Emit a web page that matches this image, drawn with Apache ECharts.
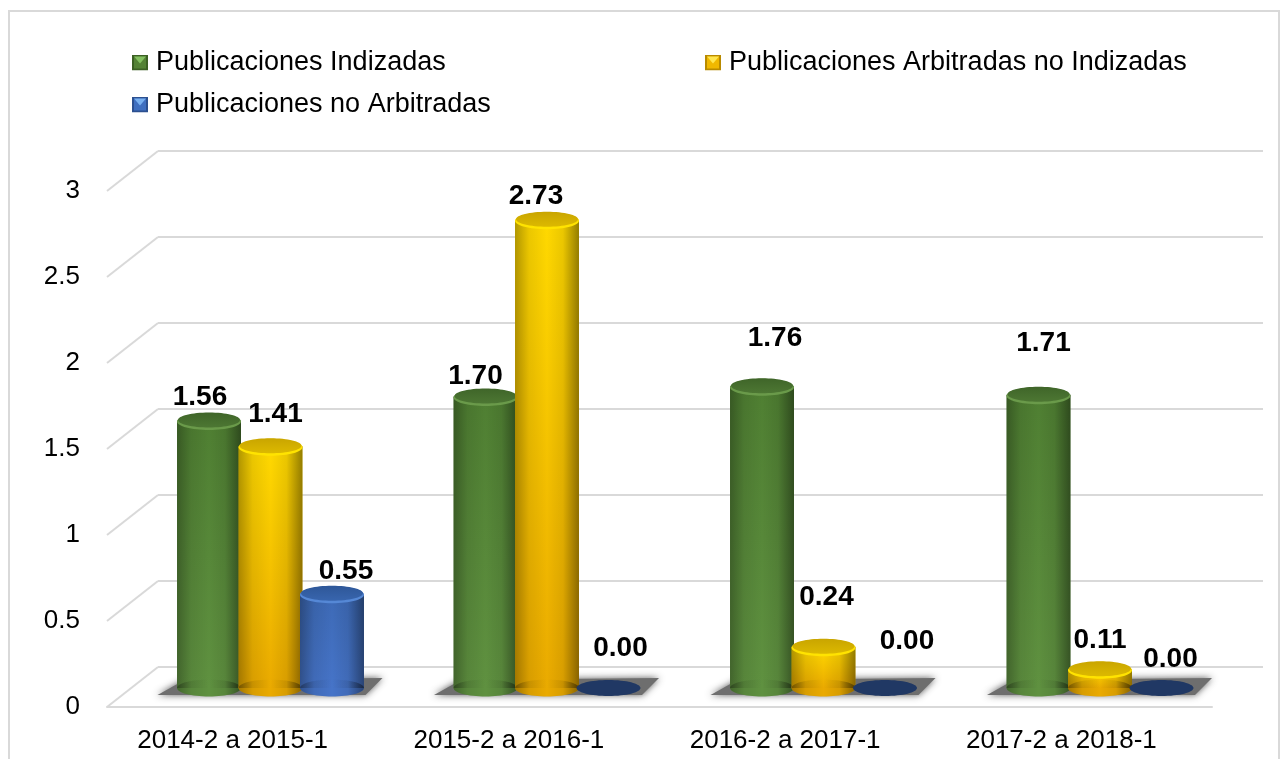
<!DOCTYPE html>
<html>
<head>
<meta charset="utf-8">
<title>Publicaciones</title>
<script src="https://cdn.jsdelivr.net/npm/echarts@6/dist/echarts.min.js"></script>
<style>
    html, body { margin: 0; padding: 0; background: #fff; overflow: hidden; }
    #chart { width: 1281px; height: 759px; }
</style>
</head>
<body>
<div id="chart"></div>
<script>
var categories = ['2014-2 a 2015-1', '2015-2 a 2016-1', '2016-2 a 2017-1', '2017-2 a 2018-1'];
var indizadas = [1.56, 1.70, 1.76, 1.71];
var arbitradas = [1.41, 2.73, 0.24, 0.11];
var noArbitradas = [0.55, 0.00, 0.00, 0.00];
var yTicks = [0, 0.5, 1, 1.5, 2, 2.5, 3];

var FONT = '"Liberation Sans", Arial, sans-serif';
var GRID_COLOR = '#d9d9d9';

// etiquetas movidas a mano en el original: desplazamiento desde la tapa de cada barra
var shiftIndizadas = [[-9, -23], [-10, -20], [13, -48], [5, -51]];
var shiftArbitradas = [[5, -32], [-11, -24], [3, -50], [0, -29]];
var shiftNoArbitradas = [[14, -22], [12, -40], [22, -47], [9, -29]];

var paletteGreen = {
    bodyTop: '#4f7f32', bodyBottom: '#5f9140', face: '#3f6529', faceLow: '#4d7733', rim: '#6a9a4a',
    icon: ['#548235', '#84c060', '#3c6024']
};
var paletteYellow = {
    bodyTop: '#ffd900', bodyBottom: '#eaaa00', face: '#c9a500', faceLow: '#dcb900', rim: '#ffe300',
    icon: ['#f0b800', '#ffe650', '#b88a00']
};
var paletteBlue = {
    bodyTop: '#3d6ab6', bodyBottom: '#4674c8', face: '#2e5798', faceLow: '#3865ae', rim: '#5588d6',
    icon: ['#3f6fc0', '#78b0f0', '#2c5090']
};

function legendIcon(c) {
    var svg = '<svg xmlns="http://www.w3.org/2000/svg" width="16" height="16">' +
        '<rect width="16" height="16" fill="' + c[2] + '"/>' +
        '<rect x="2" y="2" width="12" height="12" fill="' + c[0] + '"/>' +
        '<polygon points="2,2 14,2 8,9" fill="' + c[1] + '"/></svg>';
    return 'image://data:image/svg+xml,' + encodeURIComponent(svg);
}

function vertical(top, bottom) {
    return { type: 'linear', x: 0, y: 0, x2: 0, y2: 1, colorStops: [{ offset: 0, color: top }, { offset: 1, color: bottom }] };
}

var edgeShade = {
    type: 'linear', x: 0, y: 0, x2: 1, y2: 0,
    colorStops: [
        { offset: 0, color: 'rgba(0,0,0,0.30)' },
        { offset: 0.22, color: 'rgba(0,0,0,0.08)' },
        { offset: 0.5, color: 'rgba(0,0,0,0)' },
        { offset: 0.75, color: 'rgba(0,0,0,0.08)' },
        { offset: 1, color: 'rgba(0,0,0,0.42)' }
    ]
};

// cilindro de una serie, slot = -1, 0, 1 dentro del grupo
function cylinder(slot, palette, shifts) {
    return function (params, api) {
        var i = api.value(0);
        var val = api.value(1);
        var top = api.coord([i, val]);
        var base = api.coord([i, 0]);
        var band = api.size([1, 0])[0];
        var cx = top[0] + slot * band * 0.2224;
        var rx = band * 0.1157;
        var ry = 8.5;
        var children = [];
        if (val === 0) {
            children.push({ type: 'ellipse', shape: { cx: cx, cy: base[1], rx: rx, ry: ry - 0.5 }, style: { fill: '#203864' } });
        } else {
            var h = base[1] - top[1];
            children.push({ type: 'ellipse', shape: { cx: cx, cy: base[1], rx: rx, ry: ry }, style: { fill: palette.bodyBottom } });
            children.push({ type: 'rect', shape: { x: cx - rx, y: top[1], width: rx * 2, height: h }, style: { fill: vertical(palette.bodyTop, palette.bodyBottom) } });
            children.push({ type: 'ellipse', shape: { cx: cx, cy: base[1], rx: rx, ry: ry }, style: { fill: edgeShade } });
            children.push({ type: 'rect', shape: { x: cx - rx, y: top[1], width: rx * 2, height: h }, style: { fill: edgeShade } });
            children.push({ type: 'ellipse', shape: { cx: cx, cy: top[1] + 1, rx: rx, ry: ry }, style: { fill: palette.rim } });
            children.push({ type: 'ellipse', shape: { cx: cx, cy: top[1] - 0.5, rx: rx - 1, ry: ry - 1 }, style: { fill: vertical(palette.face, palette.faceLow) } });
        }
        children.push({
            type: 'text',
            z2: 50,
            style: {
                x: cx + shifts[i][0],
                y: top[1] + shifts[i][1],
                text: val.toFixed(2),
                fill: '#000',
                font: 'bold 28px ' + FONT,
                textAlign: 'center',
                textVerticalAlign: 'middle'
            }
        });
        return { type: 'group', children: children };
    };
}

function barSeries(name, values, slot, palette, shifts) {
    return {
        name: name,
        type: 'custom',
        xAxisIndex: 2,
        yAxisIndex: 2,
        z: 5 + slot,
        silent: true,
        animation: false,
        itemStyle: { color: palette.icon[0] },
        encode: { x: 0, y: 1 },
        data: values.map(function (v, i) { return [i, v]; }),
        renderItem: cylinder(slot, palette, shifts)
    };
}

function legendItem(name, left, top, palette) {
    return {
        show: true,
        data: [name],
        left: left,
        top: top,
        orient: 'horizontal',
        padding: 0,
        itemWidth: 16,
        itemHeight: 16,
        icon: legendIcon(palette.icon),
        selectedMode: false,
        textStyle: { fontFamily: FONT, fontSize: 27, color: '#000', padding: [0, 0, 0, 3] }
    };
}

var chart = echarts.init(document.getElementById('chart'));

var option = {
    backgroundColor: '#fff',
    animation: false,
    graphic: [{
        type: 'rect',
        silent: true,
        shape: { x: 9, y: 11, width: 1270, height: 770 },
        style: { fill: 'none', stroke: '#d9d9d9', lineWidth: 2 }
    }],
    legend: [
        legendItem('Publicaciones Indizadas', 132, 49, paletteGreen),
        legendItem('Publicaciones Arbitradas no Indizadas', 705, 49, paletteYellow),
        legendItem('Publicaciones no Arbitradas', 132, 91, paletteBlue)
    ],
    grid: [
        // plano frontal: ejes y etiquetas
        { left: 107, right: 69, top: 191, height: 516 },
        // pared del fondo
        { left: 158, right: 18, top: 151, height: 516 },
        // barras
        { left: 132.25, right: 42.75, top: 173.5, height: 514.5 }
    ],
    xAxis: [{
        gridIndex: 0,
        type: 'category',
        data: categories,
        axisLine: { show: true, lineStyle: { color: GRID_COLOR, width: 2 } },
        axisTick: { show: false },
        axisLabel: { fontFamily: FONT, fontSize: 26, color: '#000', margin: 21, interval: 0, padding: [0, 25, 0, 0] }
    }, {
        gridIndex: 1,
        type: 'category',
        data: categories,
        show: false
    }, {
        gridIndex: 2,
        type: 'category',
        data: categories,
        show: false
    }],
    yAxis: [{
        gridIndex: 0,
        type: 'value',
        min: 0,
        max: 3,
        interval: 0.5,
        axisLine: { show: false },
        axisTick: { show: false },
        splitLine: { show: false },
        axisLabel: { fontFamily: FONT, fontSize: 26, color: '#000', margin: 27 }
    }, {
        gridIndex: 1,
        type: 'value',
        min: 0,
        max: 3,
        interval: 0.5,
        axisLine: { show: false },
        axisTick: { show: false },
        axisLabel: { show: false },
        splitLine: { show: true, lineStyle: { color: GRID_COLOR, width: 2 } }
    }, {
        gridIndex: 2,
        type: 'value',
        min: 0,
        max: 3,
        show: false
    }],
    series: [{
        // diagonales del piso y la pared
        type: 'custom',
        xAxisIndex: 0,
        yAxisIndex: 0,
        z: 1,
        silent: true,
        encode: { y: 0 },
        data: yTicks.map(function (v) { return [v]; }),
        renderItem: function (params, api) {
            var y = api.coord([0, api.value(0)])[1];
            var x = params.coordSys.x;
            return {
                type: 'line',
                shape: { x1: x, y1: y, x2: x + 51, y2: y - 40 },
                style: { stroke: GRID_COLOR, lineWidth: 2 }
            };
        }
    }, {
        // sombra de cada grupo sobre el piso
        type: 'custom',
        xAxisIndex: 2,
        yAxisIndex: 2,
        z: 2,
        silent: true,
        encode: { x: 0 },
        data: categories.map(function (c, i) { return [i]; }),
        renderItem: function (params, api) {
            var p = api.coord([api.value(0), 0]);
            return {
                type: 'polygon',
                shape: {
                    points: [
                        [p[0] - 113, p[1] + 7],
                        [p[0] - 86, p[1] - 8],
                        [p[0] + 112, p[1] - 10],
                        [p[0] + 95, p[1] + 7]
                    ]
                },
                style: { fill: '#6e6e6e', shadowBlur: 7, shadowColor: 'rgba(70,70,70,0.9)' }
            };
        }
    },
    barSeries('Publicaciones Indizadas', indizadas, -1, paletteGreen, shiftIndizadas),
    barSeries('Publicaciones Arbitradas no Indizadas', arbitradas, 0, paletteYellow, shiftArbitradas),
    barSeries('Publicaciones no Arbitradas', noArbitradas, 1, paletteBlue, shiftNoArbitradas)
    ]
};

chart.setOption(option);
</script>
</body>
</html>
